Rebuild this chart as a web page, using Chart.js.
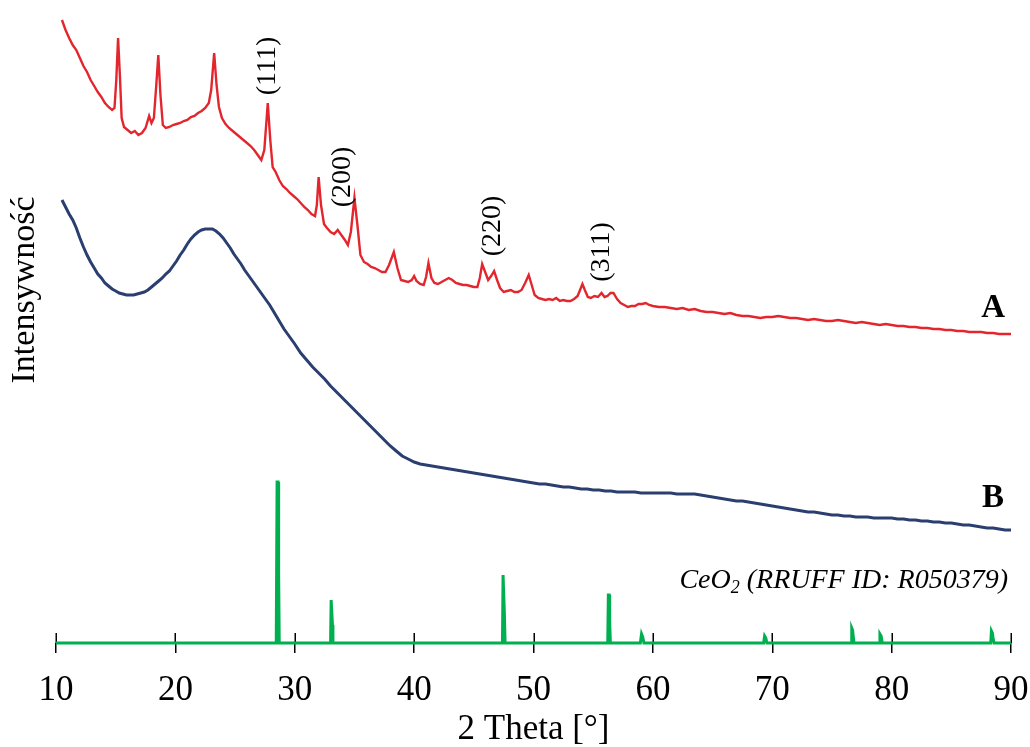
<!DOCTYPE html>
<html lang="pl">
<head>
<meta charset="utf-8">
<title>XRD – CeO2</title>
<script src="https://cdn.jsdelivr.net/npm/chart.js@4.4.1/dist/chart.umd.min.js"></script>
<style>
    html, body { margin: 0; padding: 0; background: #ffffff; }
    canvas { display: block; }
</style>
</head>
<body>
<canvas id="xrd" width="1030" height="747"></canvas>
<script>
/**
 * XRD patterns A and B with the CeO2 reference sticks (RRUFF R050379).
 * Intensities are arbitrary units.
 */
(function () {
    'use strict';

    var FONT = '"Liberation Serif", "Times New Roman", serif';

    // sample A (red)
    var redAngles = [
        10.5, 10.8, 11.1, 11.4, 11.7, 12.0, 12.3, 12.6, 12.9, 13.2, 13.5, 13.8, 14.1, 14.4, 14.7, 14.9,
        15.05, 15.2, 15.35, 15.5, 15.7, 16.0, 16.3, 16.6, 16.9, 17.2, 17.5, 17.8, 18.0, 18.2, 18.4, 18.57,
        18.75, 18.95, 19.2, 19.5, 19.8, 20.1, 20.4, 20.7, 21.0, 21.3, 21.6, 21.9, 22.2, 22.5, 22.8, 23.0,
        23.25, 23.45, 23.65, 23.9, 24.2, 24.5, 24.8, 25.1, 25.4, 25.7, 26.0, 26.3, 26.6, 26.9, 27.2, 27.45,
        27.74, 27.95, 28.15, 28.4, 28.7, 29.0, 29.3, 29.6, 29.9, 30.2, 30.5, 30.8, 31.1, 31.4, 31.7, 31.85,
        32.0, 32.2, 32.45, 32.7, 33.0, 33.3, 33.6, 33.9, 34.2, 34.45, 34.7, 35.0, 35.25, 35.5, 35.8, 36.1,
        36.4, 36.7, 37.0, 37.3, 37.6, 37.9, 38.3, 38.6, 38.9, 39.2, 39.5, 39.8, 40.0, 40.2, 40.5, 40.8,
        41.0, 41.2, 41.45, 41.7, 42.0, 42.3, 42.6, 42.9, 43.2, 43.5, 43.8, 44.1, 44.4, 44.7, 45.0, 45.3,
        45.5, 45.7, 45.95, 46.2, 46.45, 46.7, 46.95, 47.2, 47.5, 47.8, 48.1, 48.4, 48.7, 49.0, 49.3, 49.6,
        49.85, 50.1, 50.4, 50.7, 51.0, 51.3, 51.6, 51.9, 52.2, 52.5, 52.8, 53.1, 53.4, 53.7, 53.9, 54.1,
        54.3, 54.55, 54.8, 55.1, 55.4, 55.7, 55.95, 56.2, 56.45, 56.7, 57.0, 57.3, 57.6, 57.9, 58.2, 58.5,
        58.8, 59.1, 59.4, 59.7, 60.0, 60.5, 61.0, 61.5, 62.0, 62.5, 63.0, 63.5, 64.0, 64.5, 65.0, 65.5,
        66.0, 66.5, 67.0, 67.5, 68.0, 68.5, 69.0, 69.5, 70.0, 70.5, 71.0, 71.5, 72.0, 72.5, 73.0, 73.5,
        74.0, 74.5, 75.0, 75.5, 76.0, 76.5, 77.0, 77.5, 78.0, 78.5, 79.0, 79.5, 80.0, 80.5, 81.0, 81.5,
        82.0, 82.5, 83.0, 83.5, 84.0, 84.5, 85.0, 85.5, 86.0, 86.5, 87.0, 87.5, 88.0, 88.5, 89.0, 89.5,
        90.0
    ];
    var redCounts = [
        623, 613, 605, 598, 593, 585, 577, 571, 563, 557, 551, 546, 540, 536, 533, 535,
        563, 605, 568, 525, 516, 513, 510, 512, 508, 510, 515, 527, 520, 525, 558, 588,
        548, 518, 515, 516, 518, 519, 520, 522, 523, 526, 527, 530, 532, 535, 540, 553,
        590, 558, 536, 525, 519, 515, 512, 509, 506, 503, 500, 497, 493, 488, 483, 493,
        540, 503, 476, 471, 463, 457, 454, 450, 447, 444, 440, 436, 433, 429, 427, 438,
        466, 438, 419, 415, 411, 409, 413, 408, 403, 398, 411, 445, 418, 388, 381, 379,
        376, 375, 373, 371, 371, 378, 391, 375, 363, 362, 361, 363, 367, 362, 359, 358,
        366, 380, 365, 360, 359, 361, 363, 365, 363, 360, 359, 358, 358, 357, 356, 356,
        365, 379, 371, 363, 367, 372, 363, 355, 351, 352, 353, 351, 351, 353, 360, 368,
        358, 348, 345, 344, 343, 344, 343, 345, 342, 343, 342, 342, 344, 347, 353, 359,
        353, 346, 345, 347, 346, 350, 346, 347, 350, 350, 344, 340, 338, 336, 337, 337,
        339, 339, 340, 338, 337, 336, 336, 335, 334, 335, 333, 334, 332, 331, 331, 330,
        329, 330, 328, 327, 327, 326, 325, 326, 326, 327, 326, 325, 325, 324, 323, 324,
        323, 322, 322, 323, 322, 321, 320, 321, 320, 319, 318, 319, 318, 317, 317, 316,
        316, 315, 315, 314, 314, 313, 313, 312, 312, 311, 311, 311, 310, 310, 309, 309,
        309
    ];

    // sample B (blue)
    var blueAngles = [
        10.5, 10.8, 11.1, 11.4, 11.7, 12.0, 12.3, 12.6, 12.9, 13.2, 13.5, 13.8, 14.1, 14.4, 14.7, 15.0,
        15.3, 15.6, 15.9, 16.2, 16.5, 16.8, 17.1, 17.4, 17.7, 18.0, 18.3, 18.6, 18.9, 19.2, 19.5, 19.8,
        20.1, 20.4, 20.7, 21.0, 21.3, 21.6, 21.9, 22.2, 22.5, 22.8, 23.1, 23.4, 23.7, 24.0, 24.3, 24.6,
        24.9, 25.2, 25.5, 25.8, 26.1, 26.4, 26.7, 27.0, 27.3, 27.6, 27.9, 28.2, 28.5, 28.8, 29.1, 29.4,
        29.7, 30.0, 30.5, 31.0, 31.5, 32.0, 32.5, 33.0, 33.5, 34.0, 34.5, 35.0, 35.5, 36.0, 36.5, 37.0,
        37.5, 38.0, 38.5, 39.0, 39.5, 40.0, 40.5, 41.0, 41.5, 42.0, 42.5, 43.0, 43.5, 44.0, 44.5, 45.0,
        45.5, 46.0, 46.5, 47.0, 47.5, 48.0, 48.5, 49.0, 49.5, 50.0, 50.5, 51.0, 51.5, 52.0, 52.5, 53.0,
        53.5, 54.0, 54.5, 55.0, 55.5, 56.0, 56.5, 57.0, 57.5, 58.0, 58.5, 59.0, 59.5, 60.0, 60.5, 61.0,
        61.5, 62.0, 62.5, 63.0, 63.5, 64.0, 64.5, 65.0, 65.5, 66.0, 66.5, 67.0, 67.5, 68.0, 68.5, 69.0,
        69.5, 70.0, 70.5, 71.0, 71.5, 72.0, 72.5, 73.0, 73.5, 74.0, 74.5, 75.0, 75.5, 76.0, 76.5, 77.0,
        77.5, 78.0, 78.5, 79.0, 79.5, 80.0, 80.5, 81.0, 81.5, 82.0, 82.5, 83.0, 83.5, 84.0, 84.5, 85.0,
        85.5, 86.0, 86.5, 87.0, 87.5, 88.0, 88.5, 89.0, 89.5, 90.0
    ];
    var blueCounts = [
        443, 436, 429, 423, 415, 405, 396, 388, 381, 375, 369, 365, 360, 357, 354, 352,
        350, 349, 348, 348, 348, 349, 350, 351, 353, 356, 359, 362, 365, 369, 372, 377,
        382, 388, 393, 399, 404, 408, 411, 413, 414, 414, 414, 412, 409, 405, 400, 395,
        389, 384, 379, 373, 368, 363, 358, 353, 348, 343, 338, 332, 326, 320, 314, 309,
        304, 299, 290, 283, 276, 270, 264, 257, 251, 245, 239, 233, 227, 221, 215, 209,
        203, 197, 192, 187, 184, 181, 179, 178, 177, 176, 175, 174, 173, 172, 171, 170,
        169, 168, 167, 166, 165, 164, 163, 162, 161, 160, 159, 159, 158, 157, 156, 156,
        155, 154, 154, 153, 153, 152, 152, 151, 151, 151, 151, 150, 150, 150, 150, 150,
        150, 149, 149, 149, 149, 148, 147, 146, 145, 144, 143, 142, 142, 141, 140, 139,
        138, 137, 136, 135, 134, 133, 132, 131, 131, 130, 129, 128, 128, 127, 127, 126,
        126, 126, 125, 125, 125, 125, 124, 124, 123, 123, 122, 122, 121, 121, 120, 120,
        119, 118, 118, 117, 116, 115, 115, 114, 113, 113
    ];

    // CeO2 reference pattern (green), main line plus K-alpha2 shoulder
    var ceo2Angles = [
        10.0, 28.45, 28.52, 28.6, 28.65, 28.7, 33.0, 33.05, 33.12, 33.16, 33.2,
        47.4, 47.45, 47.52, 47.56, 47.62, 56.22, 56.27, 56.34, 56.38, 56.44,
        58.95, 59.05, 59.15, 59.25, 69.28, 69.36, 69.46, 69.55,
        76.6, 76.66, 76.73, 76.78, 76.85, 78.95, 79.02, 79.12, 79.22,
        88.3, 88.36, 88.44, 88.5, 88.58, 90.0
    ];
    var ceo2Counts = [
        0, 0, 161, 161, 70, 0, 0, 43, 43, 18, 0,
        0, 68, 68, 30, 0, 0, 48, 48, 22, 0,
        0, 9, 6, 0, 0, 7, 5, 0,
        0, 15, 13, 7, 0, 0, 9, 7, 0,
        0, 12, 10, 5, 0, 0
    ];

    var tickValues = [10, 20, 30, 40, 50, 60, 70, 80, 90];

    var hklLabels = ['(111)', '(200)', '(220)', '(311)'];
    var hklAngles = [27.75, 34.0, 46.6, 55.7];
    var hklCounts = [577, 466, 417, 391];

    function toPoints(xs, ys) {
        var out = [];
        for (var i = 0; i < xs.length; i++) {
            out.push({ x: xs[i], y: ys[i] });
        }
        return out;
    }

    function rotatedText(ctx, text, x, y) {
        ctx.save();
        ctx.translate(x, y);
        ctx.rotate(-Math.PI / 2);
        ctx.textAlign = 'center';
        ctx.textBaseline = 'middle';
        ctx.fillText(text, 0, 0);
        ctx.restore();
    }

    var overlay = {
        id: 'overlay',
        beforeDatasetsDraw: function (chart) {
            // upper half of the tick marks (the lower half comes from the grid)
            var ctx = chart.ctx;
            var xs = chart.scales.x;
            var yb = chart.chartArea.bottom;
            ctx.save();
            ctx.strokeStyle = '#000';
            ctx.lineWidth = 1.5;
            for (var i = 0; i < tickValues.length; i++) {
                var px = Math.round(xs.getPixelForValue(tickValues[i])) + 0.25;
                ctx.beginPath();
                ctx.moveTo(px, yb - 10);
                ctx.lineTo(px, yb);
                ctx.stroke();
            }
            ctx.restore();
        },
        afterDatasetsDraw: function (chart) {
            var ctx = chart.ctx;
            var xs = chart.scales.x;
            var ys = chart.scales.y;
            var i;

            ctx.save();
            ctx.fillStyle = '#000';

            ctx.font = '28px ' + FONT;
            for (i = 0; i < hklLabels.length; i++) {
                rotatedText(ctx, hklLabels[i], xs.getPixelForValue(hklAngles[i]), ys.getPixelForValue(hklCounts[i]));
            }

            ctx.font = '34px ' + FONT;
            rotatedText(ctx, 'Intensywność', chart.chartArea.left - 31, ys.getPixelForValue(353));

            ctx.font = 'bold 33px ' + FONT;
            ctx.textAlign = 'center';
            ctx.textBaseline = 'middle';
            ctx.fillText('A', xs.getPixelForValue(88.5), ys.getPixelForValue(335));
            ctx.fillText('B', xs.getPixelForValue(88.5), ys.getPixelForValue(145));

            // CeO2 (RRUFF ID: R050379), right aligned, with a subscript 2
            var right = xs.getPixelForValue(89.75);
            var base = ys.getPixelForValue(55);
            var partA = 'CeO';
            var partB = '2';
            var partC = ' (RRUFF ID: R050379)';
            ctx.textBaseline = 'alphabetic';
            ctx.textAlign = 'left';
            ctx.font = 'italic 28px ' + FONT;
            var wA = ctx.measureText(partA).width;
            var wC = ctx.measureText(partC).width;
            ctx.font = 'italic 18px ' + FONT;
            var wB = ctx.measureText(partB).width;
            var left = right - wA - wB - wC;
            ctx.font = 'italic 28px ' + FONT;
            ctx.fillText(partA, left, base);
            ctx.fillText(partC, left + wA + wB, base);
            ctx.font = 'italic 18px ' + FONT;
            ctx.fillText(partB, left + wA, base + 5);

            ctx.restore();
        }
    };

    function boot() {
        var canvas = document.getElementById('xrd');
        if (!canvas || typeof Chart === 'undefined') {
            return;
        }

        new Chart(canvas, {
            type: 'line',
            data: {
                datasets: [{
                    label: 'A',
                    data: toPoints(redAngles, redCounts),
                    borderColor: '#e3262d',
                    borderWidth: 2.4,
                    pointRadius: 0,
                    tension: 0
                }, {
                    label: 'B',
                    data: toPoints(blueAngles, blueCounts),
                    borderColor: '#2a3f70',
                    borderWidth: 3,
                    pointRadius: 0,
                    tension: 0
                }, {
                    label: 'CeO2',
                    data: toPoints(ceo2Angles, ceo2Counts),
                    borderColor: '#00b050',
                    borderWidth: 3,
                    pointRadius: 0,
                    tension: 0,
                    borderJoinStyle: 'miter',
                    clip: 4
                }]
            },
            options: {
                responsive: false,
                animation: false,
                events: [],
                layout: {
                    padding: { left: 56, right: 19, top: 3, bottom: 0 }
                },
                plugins: {
                    legend: { display: false },
                    tooltip: { enabled: false }
                },
                scales: {
                    x: {
                        type: 'linear',
                        min: 10,
                        max: 90,
                        afterBuildTicks: function (scale) {
                            scale.ticks = tickValues.map(function (v) { return { value: v }; });
                        },
                        afterFit: function (scale) {
                            scale.height = 104;
                            scale.paddingLeft = 0;
                            scale.paddingRight = 0;
                        },
                        border: { display: false },
                        grid: {
                            display: true,
                            drawOnChartArea: false,
                            drawTicks: true,
                            tickLength: 10,
                            color: '#000',
                            lineWidth: 1.5
                        },
                        ticks: {
                            color: '#000',
                            padding: 20,
                            maxRotation: 0,
                            autoSkip: false,
                            font: { family: FONT, size: 35, lineHeight: 1 },
                            callback: function (v) { return String(v); }
                        },
                        title: {
                            display: true,
                            text: '2 Theta [°]',
                            color: '#000',
                            padding: { top: 0, bottom: 0 },
                            font: { family: FONT, size: 35, lineHeight: 1 }
                        }
                    },
                    y: {
                        display: false,
                        min: 0,
                        max: 640
                    }
                }
            },
            plugins: [overlay]
        });
    }

    if (document.readyState === 'loading') {
        document.addEventListener('DOMContentLoaded', boot);
    } else {
        boot();
    }
})();
</script>
</body>
</html>
